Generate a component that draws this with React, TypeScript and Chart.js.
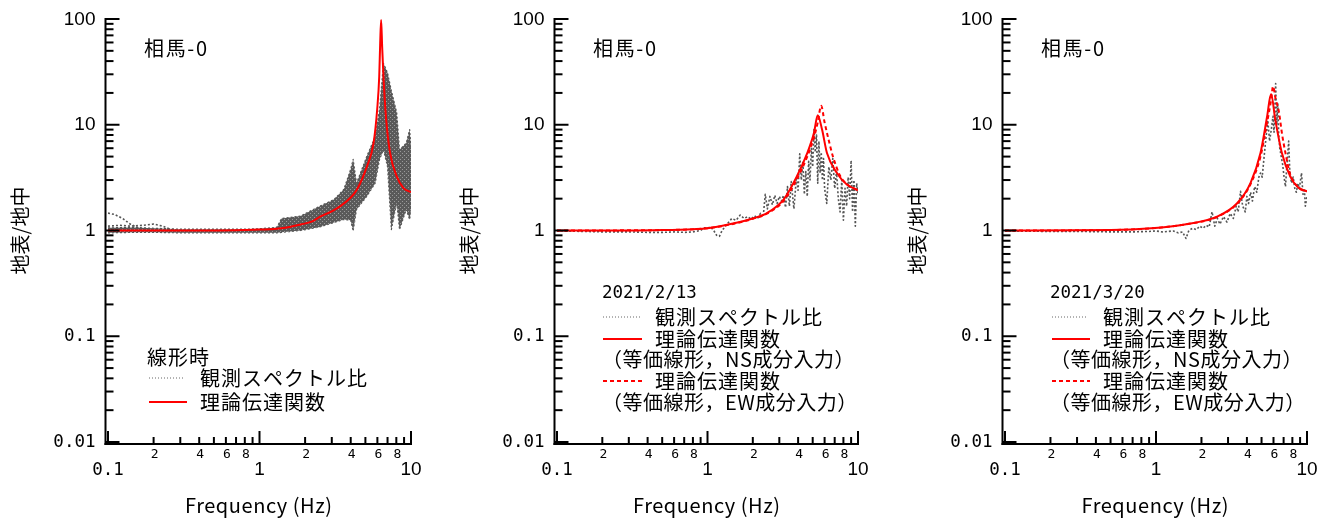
import React, { useEffect, useRef } from "react";
import { Chart, registerables } from "chart.js";

Chart.register(...registerables);

// ---------------- Data ----------------
// Axis ticks
const yMajorValues = [0.01, 0.1, 1, 10, 100];
const yMajorLabels = ["0.01", "0.1", "1", "10", "100"];
const xMajorValues = [0.1, 1, 10];
const xMajorLabels = ["0.1", "1", "10"];
const xMinorLabelMultipliers = [2, 4, 6, 8];

// Panel 1 : 線形時
const p1TheoryFreq = [0.1, 0.2, 0.5, 0.8, 1.0, 1.4, 1.87, 2.23, 2.53, 3.0, 3.42, 4.0, 4.4, 5.12, 5.66, 5.98, 6.17, 6.26, 6.35, 6.45, 6.58, 6.86, 7.28, 8.05, 8.9, 10];
const p1TheoryVal = [1.0, 1.0, 1.0, 1.01, 1.02, 1.05, 1.14, 1.22, 1.36, 1.52, 1.7, 2.05, 2.44, 4.04, 6.7, 13.9, 28.6, 59, 98, 55, 28.6, 11.1, 5.4, 3.25, 2.53, 2.3];
const p1ObsFreq = [0.1, 0.15, 0.2, 0.3, 0.5, 0.8, 1.0, 1.3, 1.4, 1.87, 2.5, 3.1, 3.6, 4.0, 4.15, 4.37, 5.1, 5.8, 6.2, 6.58, 7.0, 7.42, 8.05, 8.4, 9.3, 9.8, 10];
const p1ObsUpper = [1.06, 1.07, 1.05, 1.03, 1.03, 1.03, 1.04, 1.07, 1.3, 1.37, 1.7, 1.96, 2.44, 3.8, 4.7, 2.8, 5.0, 7.7, 14, 38, 31, 21, 13, 5.8, 6.7, 9.0, 6.0];
const p1ObsLower = [0.95, 0.96, 0.96, 0.95, 0.95, 0.95, 0.95, 0.95, 0.96, 1.0, 1.08, 1.19, 1.27, 1.25, 0.99, 1.58, 2.1, 2.8, 4.7, 5.8, 4.0, 1.02, 1.84, 1.02, 1.58, 1.27, 1.6];
const p1LowAFreq = [0.1, 0.11, 0.125, 0.14, 0.16, 0.18];
const p1LowAVal = [1.46, 1.42, 1.3, 1.15, 1.05, 1.0];
const p1LowBFreq = [0.1, 0.12, 0.14, 0.17, 0.2, 0.23, 0.27];
const p1LowBVal = [1.1, 1.12, 1.1, 1.12, 1.15, 1.1, 1.0];

// Panel 2 : 2021/2/13
const p2NsFreq = [0.1, 0.3, 0.5, 0.8, 1.0, 1.5, 2.0, 2.5, 3.2, 3.9, 4.6, 5.1, 5.4, 5.77, 6.22, 7.24, 8.43, 10];
const p2NsVal = [1.0, 1.0, 1.01, 1.03, 1.05, 1.17, 1.3, 1.47, 1.96, 3.2, 5.4, 8.4, 12.3, 9.0, 5.4, 3.5, 2.72, 2.4];
const p2EwFreq = [0.1, 0.5, 1.0, 1.5, 2.0, 2.5, 3.2, 3.9, 4.6, 5.1, 5.4, 5.69, 6.0, 6.38, 6.82, 7.6, 8.43, 10];
const p2EwVal = [1.0, 1.01, 1.05, 1.16, 1.29, 1.45, 1.9, 3.0, 5.0, 7.6, 10.5, 15.1, 10.5, 7.2, 5.0, 3.3, 2.75, 2.4];
const p2ObsFreq = [0.1, 0.15, 0.2, 0.3, 0.4, 0.5, 0.6, 0.7, 0.8, 0.9, 0.95, 1.0, 1.05, 1.1, 1.15, 1.2, 1.25, 1.35, 1.45, 1.55, 1.65, 1.75, 1.85, 1.95, 2.05, 2.15, 2.25, 2.35, 2.42, 2.5, 2.6, 2.7, 2.8, 2.9, 3.0, 3.1, 3.2, 3.3, 3.4, 3.5, 3.6, 3.75, 3.9, 4.0, 4.1, 4.2, 4.3, 4.4, 4.5, 4.6, 4.7, 4.8, 4.9, 5.0, 5.1, 5.2, 5.3, 5.4, 5.5, 5.6, 5.7, 5.8, 5.9, 6.0, 6.2, 6.4, 6.6, 6.8, 7.0, 7.2, 7.4, 7.6, 7.8, 8.0, 8.2, 8.4, 8.6, 8.8, 9.0, 9.2, 9.4, 9.6, 9.8, 10];
const p2ObsVal = [0.99, 0.98, 0.97, 0.97, 0.96, 0.96, 0.97, 0.96, 0.97, 1.0, 1.06, 1.05, 1.08, 1.0, 0.9, 0.88, 1.0, 1.15, 1.3, 1.25, 1.4, 1.3, 1.35, 1.28, 1.38, 1.3, 1.45, 1.4, 2.2, 1.6, 2.1, 1.75, 2.15, 1.8, 2.1, 1.9, 2.15, 1.65, 2.6, 1.7, 2.9, 1.6, 3.2, 2.4, 5.3, 3.0, 4.5, 2.2, 3.6, 2.1, 4.5, 3.0, 6.0, 4.0, 9.0, 5.5, 8.0, 2.8, 7.0, 3.5, 5.5, 3.0, 4.8, 2.5, 1.8, 4.0, 3.0, 4.8, 2.5, 3.6, 2.0, 1.5, 3.0, 1.25, 2.5, 1.7, 3.2, 2.0, 4.6, 1.5, 3.0, 1.1, 2.8, 2.2];

// Panel 3 : 2021/3/20
const p3NsFreq = [0.1, 0.5, 0.93, 1.55, 2.56, 3.46, 4.23, 4.92, 5.44, 5.78, 6.17, 6.82, 7.74, 8.78, 10];
const p3NsVal = [1.0, 1.01, 1.05, 1.14, 1.36, 1.82, 2.82, 5.4, 11.9, 19.5, 11.1, 5.4, 3.25, 2.53, 2.35];
const p3EwFreq = [0.1, 0.5, 0.93, 1.55, 2.56, 3.46, 4.23, 4.92, 5.44, 5.78, 5.96, 6.2, 6.5, 6.85, 7.2, 7.74, 8.78, 10];
const p3EwVal = [1.0, 1.01, 1.05, 1.14, 1.35, 1.8, 2.75, 5.0, 10.5, 17, 23, 17.5, 13.5, 8, 5.4, 3.4, 2.55, 2.35];
const p3ObsFreq = [0.1, 0.2, 0.3, 0.5, 0.7, 0.9, 1.0, 1.1, 1.2, 1.3, 1.4, 1.5, 1.58, 1.65, 1.75, 1.85, 1.95, 2.05, 2.15, 2.25, 2.35, 2.45, 2.55, 2.65, 2.8, 2.95, 3.1, 3.25, 3.4, 3.5, 3.63, 3.75, 3.9, 4.0, 4.1, 4.23, 4.35, 4.5, 4.65, 4.8, 4.92, 5.05, 5.2, 5.35, 5.5, 5.65, 5.8, 5.95, 6.05, 6.2, 6.3, 6.4, 6.5, 6.6, 6.75, 6.9, 7.05, 7.2, 7.35, 7.56, 7.7, 7.9, 8.1, 8.3, 8.5, 8.7, 8.9, 9.2, 9.4, 9.6, 9.75, 10];
const p3ObsVal = [0.99, 0.98, 0.98, 0.97, 0.97, 0.98, 0.99, 0.97, 0.98, 0.99, 0.95, 0.97, 0.84, 1.0, 1.05, 1.02, 1.1, 1.05, 1.12, 1.08, 1.5, 1.1, 1.3, 1.15, 1.35, 1.2, 1.45, 1.3, 1.7, 1.5, 2.35, 1.7, 1.5, 2.1, 1.8, 2.3, 1.9, 2.6, 2.3, 3.2, 3.5, 3.2, 5.0, 7.5, 11, 7.0, 9.0, 12, 8.5, 24.5, 10, 16, 8, 6, 5.0, 4.2, 3.2, 2.6, 4.0, 7.0, 3.5, 2.8, 3.2, 2.5, 2.3, 2.8, 2.5, 3.5, 2.2, 2.5, 1.7, 2.1];

// Texts
const stationLabel = "相馬-0";
const yAxisTitle = "地表/地中";
const xAxisTitle = "Frequency (Hz)";
const legendObs = "観測スペクトル比";
const legendTheory = "理論伝達関数";
const legendNs = "（等価線形，NS成分入力）";
const legendEw = "（等価線形，EW成分入力）";
const p1LegendTitle = "線形時";
const p2LegendTitle = "2021/2/13";
const p3LegendTitle = "2021/3/20";

// ---------------- Styles ----------------
const FONT_CJK = '"Noto Sans CJK JP", "Noto Sans CJK SC", sans-serif';
const FONT_MONO = '"DejaVu Sans Mono", "Liberation Mono", monospace';
const FONT_SANS = '"Liberation Sans", Arial, sans-serif';
const RED = "#ff0000";
const GRAY = "#555555";

const pts = (xs: number[], ys: number[]) => xs.map((x, i) => ({ x, y: ys[i] }));

type Row = { kind: "title" | "dot" | "solid" | "dash" | "note"; text: string; y: number };

interface Panel {
  left: number;
  width: number;
  padL: number;
  padR: number;
  datasets: () => any[];
  legend: Row[];
  legendTitleDx: number;
  sampleDx0: number;
  sampleDx1: number;
  textDx: number;
  titleFont: string;
}

const theoryLine = (xs: number[], ys: number[]) => ({
  data: pts(xs, ys),
  borderColor: RED,
  borderWidth: 2,
  pointRadius: 0,
  cubicInterpolationMode: "monotone",
  fill: false,
});
const dashedLine = (xs: number[], ys: number[]) => ({
  data: pts(xs, ys),
  borderColor: RED,
  borderWidth: 2,
  borderDash: [4, 3],
  pointRadius: 0,
  cubicInterpolationMode: "monotone",
  fill: false,
});
const obsLine = (xs: number[], ys: number[]) => ({
  data: pts(xs, ys),
  borderColor: GRAY,
  borderWidth: 1.6,
  borderDash: [2, 2],
  pointRadius: 0,
  fill: false,
});

// dotted-texture fill for the dense band of observed ratios
function bandPattern(): any {
  const c = document.createElement("canvas");
  c.width = 4;
  c.height = 4;
  const g = c.getContext("2d");
  if (!g) return "rgba(88,88,88,0.85)";
  g.fillStyle = "#5a5a5a";
  g.fillRect(0, 0, 4, 4);
  g.fillStyle = "#9a9a9a";
  g.fillRect(2, 1, 1, 1);
  g.fillRect(0, 3, 1, 1);
  return g.createPattern(c, "repeat") || "rgba(88,88,88,0.85)";
}

const PANELS: Panel[] = [
  {
    left: 0,
    width: 440,
    padL: 108,
    padR: 29,
    datasets: () => [
      theoryLine(p1TheoryFreq, p1TheoryVal),
      obsLine(p1LowAFreq, p1LowAVal),
      obsLine(p1LowBFreq, p1LowBVal),
      { ...obsLine(p1ObsFreq, p1ObsUpper), borderWidth: 1.2, fill: "+1", backgroundColor: bandPattern() },
      { ...obsLine(p1ObsFreq, p1ObsLower), borderWidth: 1.2 },
    ],
    legend: [
      { kind: "title", text: p1LegendTitle, y: 357 },
      { kind: "dot", text: legendObs, y: 378 },
      { kind: "solid", text: legendTheory, y: 402 },
    ],
    legendTitleDx: 39,
    sampleDx0: 41,
    sampleDx1: 77,
    textDx: 92,
    titleFont: "cjk",
  },
  {
    left: 440,
    width: 440,
    padL: 117,
    padR: 22,
    datasets: () => [
      theoryLine(p2NsFreq, p2NsVal),
      dashedLine(p2EwFreq, p2EwVal),
      obsLine(p2ObsFreq, p2ObsVal),
    ],
    legend: [
      { kind: "title", text: p2LegendTitle, y: 293 },
      { kind: "dot", text: legendObs, y: 317 },
      { kind: "solid", text: legendTheory, y: 339 },
      { kind: "note", text: legendNs, y: 359 },
      { kind: "dash", text: legendTheory, y: 381 },
      { kind: "note", text: legendEw, y: 402 },
    ],
    legendTitleDx: 45,
    sampleDx0: 46,
    sampleDx1: 83,
    textDx: 98,
    titleFont: "mono",
  },
  {
    left: 880,
    width: 448,
    padL: 125,
    padR: 21,
    datasets: () => [
      theoryLine(p3NsFreq, p3NsVal),
      dashedLine(p3EwFreq, p3EwVal),
      obsLine(p3ObsFreq, p3ObsVal),
    ],
    legend: [
      { kind: "title", text: p3LegendTitle, y: 293 },
      { kind: "dot", text: legendObs, y: 317 },
      { kind: "solid", text: legendTheory, y: 339 },
      { kind: "note", text: legendNs, y: 359 },
      { kind: "dash", text: legendTheory, y: 381 },
      { kind: "note", text: legendEw, y: 402 },
    ],
    legendTitleDx: 45,
    sampleDx0: 47,
    sampleDx1: 83,
    textDx: 98,
    titleFont: "mono",
  },
];

// ---------------- Drawing helpers ----------------
function text(
  ctx: CanvasRenderingContext2D,
  s: string,
  x: number,
  y: number,
  font: string,
  align: "left" | "right" | "center",
  spacing = 0
) {
  ctx.save();
  ctx.font = font;
  (ctx as any).letterSpacing = "0px";
  const w0 = ctx.measureText(s).width;
  const n = Array.from(s).length;
  const w = w0 + spacing * (n - 1);
  let x0 = x;
  if (align === "right") x0 = x - w;
  else if (align === "center") x0 = x - w / 2;
  (ctx as any).letterSpacing = spacing + "px";
  ctx.textAlign = "left";
  ctx.textBaseline = "middle";
  ctx.fillStyle = "#000";
  ctx.fillText(s, x0, y);
  ctx.restore();
}

function fitSpacing(ctx: CanvasRenderingContext2D, s: string, font: string, target: number) {
  ctx.save();
  ctx.font = font;
  (ctx as any).letterSpacing = "0px";
  const w = ctx.measureText(s).width;
  ctx.restore();
  const n = Array.from(s).length;
  return n > 1 ? (target - w) / (n - 1) : 0;
}

function seg(ctx: CanvasRenderingContext2D, x0: number, y0: number, x1: number, y1: number) {
  ctx.beginPath();
  ctx.moveTo(x0, y0);
  ctx.lineTo(x1, y1);
  ctx.stroke();
}

const makePlugin = (p: Panel) => ({
  id: "axesAndLegend",
  afterDraw(chart: any) {
    const ctx: CanvasRenderingContext2D = chart.ctx;
    const xs = chart.scales.x;
    const ys = chart.scales.y;
    const L = xs.getPixelForValue(0.1);
    const R = xs.getPixelForValue(10);
    const T = ys.getPixelForValue(100);
    const B = ys.getPixelForValue(0.01);
    const ax = L - 2.5;
    const ay = B + 2;

    ctx.save();
    ctx.strokeStyle = "#000";
    ctx.lineWidth = 2;
    ctx.lineCap = "butt";
    ctx.setLineDash([]);
    // axis lines
    seg(ctx, ax, T - 1, ax, ay + 1);
    seg(ctx, ax - 1, ay, R + 1, ay);
    // y ticks
    for (let k = -2; k <= 2; k++) {
      const v = Math.pow(10, k);
      const y = ys.getPixelForValue(v);
      seg(ctx, ax, y, ax + 14, y);
      if (k < 2) {
        for (let m = 2; m <= 9; m++) {
          const yy = ys.getPixelForValue(m * v);
          seg(ctx, ax, yy, ax + 8, yy);
        }
      }
    }
    // x ticks
    for (let k = -1; k <= 1; k++) {
      const v = Math.pow(10, k);
      const x = xs.getPixelForValue(v);
      seg(ctx, x, ay, x, ay - 13);
      if (k < 1) {
        for (let m = 2; m <= 9; m++) {
          const xx = xs.getPixelForValue(m * v);
          seg(ctx, xx, ay, xx, ay - 7);
        }
      }
    }
    ctx.restore();

    // y tick labels
    yMajorValues.forEach((v, i) => {
      const lab = yMajorLabels[i];
      const y = ys.getPixelForValue(v);
      const font = lab.includes(".") ? `17.5px ${FONT_MONO}` : `19px ${FONT_SANS}`;
      text(ctx, lab, ax - 10, y + 0.5, font, "right");
    });
    // x tick labels
    xMajorValues.forEach((v, i) => {
      const lab = xMajorLabels[i];
      const x = xs.getPixelForValue(v);
      const font = lab.includes(".") ? `17.5px ${FONT_MONO}` : `19px ${FONT_SANS}`;
      text(ctx, lab, x, 470, font, "center");
    });
    for (let k = -1; k <= 0; k++) {
      xMinorLabelMultipliers.forEach((m) => {
        const x = xs.getPixelForValue(m * Math.pow(10, k));
        text(ctx, String(m), x + 1, 455, `13px ${FONT_MONO}`, "center");
      });
    }

    // axis titles
    const fFont = `20px ${FONT_CJK}`;
    text(ctx, xAxisTitle, (L + R) / 2 - 1, 505, fFont, "center", fitSpacing(ctx, xAxisTitle, fFont, 147));
    ctx.save();
    ctx.translate(L - 88, (T + B) / 2);
    ctx.rotate(-Math.PI / 2);
    text(ctx, yAxisTitle, 0, 0, `20px ${FONT_CJK}`, "center");
    ctx.restore();

    // station annotation
    const sFont = `20px ${FONT_CJK}`;
    text(ctx, stationLabel, L + 36, 48, sFont, "left", fitSpacing(ctx, stationLabel, sFont, 63));

    // legend
    const lFont = `20px ${FONT_CJK}`;
    const lSpacing = 1;
    p.legend.forEach((row) => {
      if (row.kind === "title") {
        const font = p.titleFont === "mono" ? `17.5px ${FONT_MONO}` : lFont;
        text(ctx, row.text, L + p.legendTitleDx, row.y, font, "left", p.titleFont === "mono" ? 0 : lSpacing);
        return;
      }
      if (row.kind === "note") {
        text(ctx, row.text, L + p.legendTitleDx, row.y, lFont, "left", 0.5);
        return;
      }
      ctx.save();
      if (row.kind === "dot") {
        ctx.strokeStyle = "#666";
        ctx.lineWidth = 1;
        ctx.setLineDash([1, 2]);
      } else if (row.kind === "solid") {
        ctx.strokeStyle = RED;
        ctx.lineWidth = 2;
        ctx.setLineDash([]);
      } else {
        ctx.strokeStyle = RED;
        ctx.lineWidth = 2;
        ctx.setLineDash([4, 3]);
      }
      seg(ctx, L + p.sampleDx0, row.y, L + p.sampleDx1 + (row.kind === "dot" ? 0 : 2), row.y);
      ctx.restore();
      text(ctx, row.text, L + p.textDx, row.y, lFont, "left", lSpacing);
    });
  },
});

const makeConfig = (p: Panel): any => ({
  type: "line",
  data: { datasets: p.datasets() },
  options: {
    responsive: false,
    maintainAspectRatio: false,
    animation: false,
    devicePixelRatio: 1,
    layout: { padding: { left: p.padL, right: p.padR, top: 19, bottom: 78 } },
    plugins: { legend: { display: false }, tooltip: { enabled: false }, title: { display: false } },
    elements: { point: { radius: 0 }, line: { tension: 0, borderJoinStyle: "round" } },
    scales: {
      x: { type: "logarithmic", min: 0.1, max: 10, display: false },
      y: { type: "logarithmic", min: 0.01, max: 100, display: false },
    },
  },
  plugins: [makePlugin(p)],
});

export default function App() {
  const r0 = useRef<HTMLCanvasElement>(null);
  const r1 = useRef<HTMLCanvasElement>(null);
  const r2 = useRef<HTMLCanvasElement>(null);
  const refs = [r0, r1, r2];

  useEffect(() => {
    const charts = PANELS.map((p, i) => new Chart(refs[i].current as HTMLCanvasElement, makeConfig(p)));
    let alive = true;
    const fonts: any = (document as any).fonts;
    if (fonts && fonts.load) {
      Promise.all([
        fonts.load(`20px "Noto Sans CJK JP"`, "相馬観測"),
        fonts.load(`17.5px "DejaVu Sans Mono"`),
        fonts.load(`19px "Liberation Sans"`),
      ])
        .then(() => {
          if (alive) charts.forEach((c) => c.draw());
        })
        .catch(() => {});
    }
    return () => {
      alive = false;
      charts.forEach((c) => c.destroy());
    };
  }, []);

  return (
    <div style={{ position: "absolute", left: 0, top: 0, width: 1328, height: 520, background: "#fff" }}>
      {PANELS.map((p, i) => (
        <canvas
          key={i}
          ref={refs[i]}
          width={p.width}
          height={520}
          style={{ position: "absolute", left: p.left, top: 0, width: p.width, height: 520 }}
        />
      ))}
    </div>
  );
}
